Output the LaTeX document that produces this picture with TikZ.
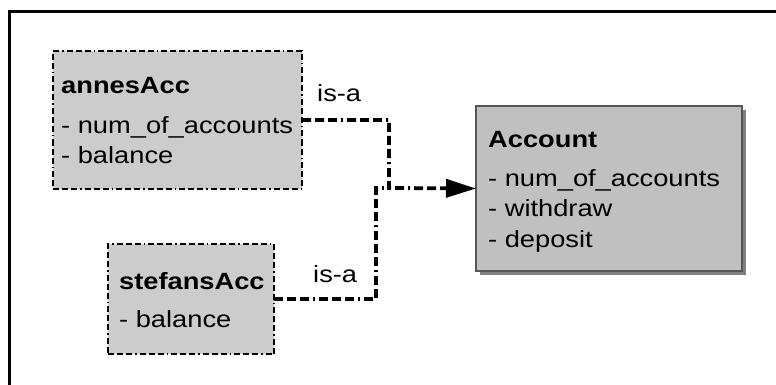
\documentclass[tikz,border=0pt]{standalone}
\usepackage{fontspec}
\setmainfont{Liberation Sans}[FakeStretch=1.16]
\usetikzlibrary{arrows.meta,shadows}
\definecolor{objfill}{HTML}{CCCCCC}
\definecolor{clsfill}{HTML}{C0C0C0}
\definecolor{clsline}{HTML}{555555}
\definecolor{shadowgray}{HTML}{808080}
\begin{document}
\begin{tikzpicture}[x=1pt,y=-1pt,
  objbox/.style={draw=black, fill=objfill, line width=1.8pt,
    dash pattern=on 6pt off 3pt on 6pt off 3pt on 6pt off 3pt on 1.5pt off 3pt,
    inner sep=0pt, outer sep=0pt, anchor=north west},
  clsbox/.style={draw=clsline, fill=clsfill, line width=1.6pt,
    inner sep=0pt, outer sep=0pt, anchor=north west,
    drop shadow={shadow xshift=4pt, shadow yshift=-4pt, fill=shadowgray, opacity=1}},
  txt/.style={anchor=base west, inner sep=0pt, font=\fontsize{23.5}{28}\selectfont},
  ttl/.style={txt, font=\fontsize{23.5}{28}\selectfont\bfseries},
  conn/.style={line width=3.8pt,
    dash pattern=on 9pt off 4pt on 9pt off 4pt on 9pt off 4pt on 2pt off 4pt}
]
\useasboundingbox (0,0) rectangle (776,385);
\fill[white] (0,0) rectangle (776,385);

% frame
\draw[line width=2.5pt] (9.5,385) -- (9.5,11.5) -- (776,11.5);

% object boxes
\node[objbox, minimum width=249pt, minimum height=138pt] (annes) at (53,51) {};
\node[ttl] (annesT) at (61,94) {annesAcc};
\node[txt] (annesA) at (61,133) {- num\_of\_accounts};
\node[txt] (annesB) at (61,164) {- balance};

\node[objbox, minimum width=166pt, minimum height=110pt] (stefans) at (108,244) {};
\node[ttl] (stefansT) at (119,289) {stefansAcc};
\node[txt] (stefansA) at (119,327) {- balance};

% class box
\node[clsbox, minimum width=266pt, minimum height=165pt] (account) at (476,106) {};
\node[ttl] (accountT) at (488,147.5) {Account};
\node[txt] (accountA) at (488,186) {- num\_of\_accounts};
\node[txt] (accountB) at (488,216.7) {- withdraw};
\node[txt] (accountC) at (488,247) {- deposit};

% connectors
\coordinate (j1) at (389,188);
\coordinate (j2) at (376,188);
\draw[conn] (stefans.east) -| (j2) -- (j1);
\draw[conn, -{Triangle[length=30pt,width=18pt]}] (annes.east) -| (j1) -- (account.west);

\node[txt] (isa1) at (317,102) {is-a};
\node[txt] (isa2) at (313,282) {is-a};
\end{tikzpicture}
\end{document}
